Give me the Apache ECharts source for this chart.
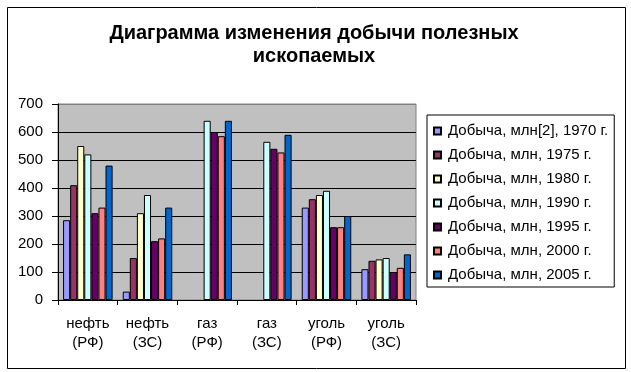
<!DOCTYPE html>
<html><head><meta charset="utf-8">
<script src="https://cdn.jsdelivr.net/npm/echarts@6/dist/echarts.min.js"></script>
<style>html,body{margin:0;padding:0;background:#fff}#c{width:631px;height:372px}</style>
</head><body><div id="c"></div>
<script>
const categories = ['нефть\n(РФ)', 'нефть\n(ЗС)', 'газ\n(РФ)', 'газ\n(ЗС)', 'уголь\n(РФ)', 'уголь\n(ЗС)'];
const seriesNames = ['Добыча, млн[2], 1970 г.', 'Добыча, млн, 1975 г.', 'Добыча, млн, 1980 г.', 'Добыча, млн, 1990 г.', 'Добыча, млн, 1995 г.', 'Добыча, млн, 2000 г.', 'Добыча, млн, 2005 г.'];
const y1970 = [285, 30, null, null, 330, 110];
const y1975 = [410, 150, null, null, 360, 140];
const y1980 = [550, 310, null, null, 375, 145];
const y1990 = [520, 375, 640, 565, 390, 150];
const y1995 = [310, 210, 600, 540, 260, 100];
const y2000 = [330, 220, 585, 527, 260, 115];
const y2005 = [480, 330, 640, 590, 300, 163];
const yTicks = [0, 100, 200, 300, 400, 500, 600, 700];
const colors = ['#9999FF', '#993366', '#FFFFCC', '#CCFFFF', '#660066', '#FF8080', '#0066CC'];
const allData = [y1970, y1975, y1980, y1990, y1995, y2000, y2005];

const FONT = 'Arial, "Liberation Sans", sans-serif';
const chart = echarts.init(document.getElementById('c'), null, {renderer: 'canvas'});
chart.setOption({
  animation: false,
  textStyle: {fontFamily: FONT, color: '#000'},
  graphic: [{
    type: 'rect', left: 5, top: 5, shape: {x: 0, y: 0, width: 618, height: 361},
    style: {fill: 'none', stroke: '#000', lineWidth: 1}, z: -1
  }],
  title: {
    text: 'Диаграмма изменения добычи полезных\nископаемых',
    left: 309, top: 17, textAlign: 'center',
    textStyle: {fontFamily: FONT, fontSize: 20, fontWeight: 'bold', color: '#000', lineHeight: 23}
  },
  legend: {
    orient: 'vertical', left: 427, top: 115,
    padding: [8, 6, 4, 6],
    borderColor: '#000', borderWidth: 1,
    itemWidth: 7, itemHeight: 7, itemGap: 8,
    icon: 'rect',
    textStyle: {fontFamily: FONT, fontSize: 15, color: '#000', lineHeight: 16, padding: [0, 0, 0, 2]},
    data: seriesNames
  },
  grid: {
    left: 58, top: 104, width: 358, height: 196,
    show: true, backgroundColor: '#C0C0C0', borderColor: '#808080', borderWidth: 1
  },
  xAxis: {
    type: 'category', data: categories,
    axisLine: {lineStyle: {color: '#000', width: 1}},
    axisTick: {show: true, length: 5, lineStyle: {color: '#000'}},
    axisLabel: {fontFamily: FONT, fontSize: 15, color: '#000', lineHeight: 19, margin: 14, interval: 0}
  },
  yAxis: {
    type: 'value', min: 0, max: 700, interval: 100,
    axisLine: {show: true, lineStyle: {color: '#000', width: 1}},
    axisTick: {show: true, length: 6, lineStyle: {color: '#000'}},
    axisLabel: {fontFamily: FONT, fontSize: 15, color: '#000', margin: 15,
      formatter: v => yTicks.includes(v) ? String(v) : ''},
    splitLine: {show: true, lineStyle: {color: ['#000', '#000', '#000', '#000', '#000', '#000', '#000', '#808080'], width: 1}}
  },
  series: seriesNames.map((n, i) => ({
    name: n, type: 'bar', data: allData[i],
    barGap: '0%', barCategoryGap: '17%',
    itemStyle: {color: colors[i], borderColor: '#000', borderWidth: 1}
  }))
});
</script></body></html>
